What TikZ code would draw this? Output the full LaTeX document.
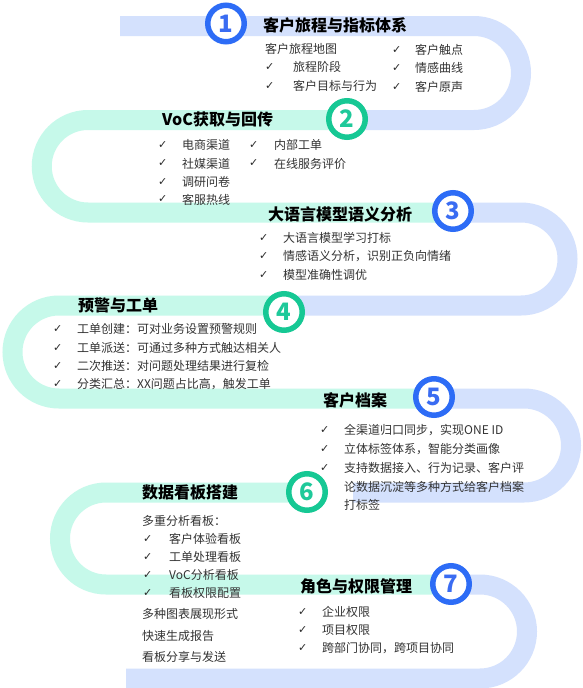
\documentclass[tikz,border=0pt]{standalone}
\usepackage{fontspec}
\setmainfont{Noto Sans CJK SC}
\newfontfamily\chkfont{DejaVu Sans}
\newfontfamily\numfont{Noto Sans CJK SC}
\definecolor{bandblue}{HTML}{D4E1FD}
\definecolor{bandgreen}{HTML}{C6F9EA}
\definecolor{ringblue}{HTML}{2D6CF6}
\definecolor{ringgreen}{HTML}{16C894}
\definecolor{numblue}{HTML}{3A6CF2}
\definecolor{numgreen}{HTML}{1EC99A}
\definecolor{bodygray}{HTML}{333333}
\definecolor{chkgray}{HTML}{2A2A2A}
\begin{document}
\begin{tikzpicture}[x=1pt,y=-1pt,
  bandB/.style={draw=bandblue,line width=20pt},
  bandG/.style={draw=bandgreen,line width=20pt},
  ringB/.style={circle,draw=ringblue,line width=5.5pt,fill=white,minimum size=36.5pt,inner sep=0pt,text=numblue,font=\numfont\bfseries\fontsize{24}{24}\selectfont},
  ringG/.style={ringB,draw=ringgreen,text=numgreen},
  ttl/.style={anchor=west,inner sep=0pt,text=black,font=\bfseries\fontsize{16}{16}\selectfont},
  body/.style={anchor=west,inner sep=0pt,text=bodygray,font=\fontsize{12}{12}\selectfont},
  chk/.style={anchor=west,inner sep=0pt,text=chkgray,font=\chkfont\fontsize{11}{11}\selectfont}]
\useasboundingbox (0,0) rectangle (583,688);
\fill[white] (0,0) rectangle (583,688);
% bands
\draw[bandB] (120,26) -- (474,26) arc[start angle=-90,end angle=90,radius=47] -- (347,120);
\draw[bandG] (347,120) -- (88,120) arc[start angle=-90,end angle=-270,radius=46.25] -- (453,212.5);
\draw[bandB] (453,212.5) -- (521,212.5) arc[start angle=-90,end angle=90,radius=46.5] -- (283,305.5);
\draw[bandG] (283,305.5) -- (59,305.5) arc[start angle=-90,end angle=-270,radius=46.5] -- (435,398.5);
\draw[bandB] (435,398.5) -- (524,398.5) arc[start angle=-90,end angle=90,radius=47] -- (353,492.5);
\draw[bandG] (307,492.5) -- (106,492.5) arc[start angle=-90,end angle=-270,radius=46] -- (450,584.5);
\draw[bandB] (450,584.5) -- (480,584.5) arc[start angle=-90,end angle=90,radius=47] -- (126,678.5);
% circles
\node[ringB] (c1) at (226,23.5) {1};
\node[ringG] (c2) at (347,119) {2};
\node[ringB] (c3) at (453,211) {3};
\node[ringG] (c4) at (284,312) {4};
\node[ringB] (c5) at (434,397) {5};
\node[ringG] (c6) at (307,492) {6};
\node[ringB] (c7) at (451,584) {7};
% row 1
\node[ttl] (t1) at (263,25) {客户旅程与指标体系};
\node[body] (b1a) at (265,49) {客户旅程地图};
\node[chk] (k1b) at (265,67) {✓}; \node[body] (b1b) at (293,67) {旅程阶段};
\node[chk] (k1c) at (265,86) {✓}; \node[body] (b1c) at (293,86) {客户目标与行为};
\node[chk] (k1d) at (392,50) {✓}; \node[body] (b1d) at (415,50) {客户触点};
\node[chk] (k1e) at (392,68) {✓}; \node[body] (b1e) at (415,68) {情感曲线};
\node[chk] (k1f) at (392,87) {✓}; \node[body] (b1f) at (415,87) {客户原声};
% row 2
\node[ttl] (t2) at (162,119) {VoC获取与回传};
\node[chk] (k2a) at (158,145) {✓}; \node[body] (b2a) at (182,145) {电商渠道};
\node[chk] (k2b) at (158,163.5) {✓}; \node[body] (b2b) at (182,163.5) {社媒渠道};
\node[chk] (k2c) at (158,182) {✓}; \node[body] (b2c) at (182,182) {调研问卷};
\node[chk] (k2d) at (158,199.5) {✓}; \node[body] (b2d) at (182,199.5) {客服热线};
\node[chk] (k2e) at (249,145) {✓}; \node[body] (b2e) at (274,145) {内部工单};
\node[chk] (k2f) at (249,163.5) {✓}; \node[body] (b2f) at (274,163.5) {在线服务评价};
% row 3
\node[ttl] (t3) at (268,214) {大语言模型语义分析};
\node[chk] (k3a) at (259,238) {✓}; \node[body] (b3a) at (283,238) {大语言模型学习打标};
\node[chk] (k3b) at (259,256.5) {✓}; \node[body] (b3b) at (283,256.5) {情感语义分析，识别正负向情绪};
\node[chk] (k3c) at (259,275) {✓}; \node[body] (b3c) at (283,275) {模型准确性调优};
% row 4
\node[ttl] (t4) at (78,305) {预警与工单};
\node[chk] (k4a) at (53,329) {✓}; \node[body] (b4a) at (77,329) {工单创建：可对业务设置预警规则};
\node[chk] (k4b) at (53,348) {✓}; \node[body] (b4b) at (77,348) {工单派送：可通过多种方式触达相关人};
\node[chk] (k4c) at (53,366) {✓}; \node[body] (b4c) at (77,366) {二次推送：对问题处理结果进行复检};
\node[chk] (k4d) at (53,384) {✓}; \node[body] (b4d) at (77,384) {分类汇总：XX问题占比高，触发工单};
% row 5
\node[ttl] (t5) at (323,400) {客户档案};
\node[chk] (k5a) at (320,430) {✓}; \node[body] (b5a) at (344,430) {全渠道归口同步，实现ONE ID};
\node[chk] (k5b) at (320,449) {✓}; \node[body] (b5b) at (344,449) {立体标签体系，智能分类画像};
\node[chk] (k5c) at (320,468) {✓}; \node[body] (b5c) at (344,468) {支持数据接入、行为记录、客户评};
\node[body] (b5d) at (344,487) {论数据沉淀等多种方式给客户档案};
\node[body] (b5e) at (344,505) {打标签};
% row 6
\node[ttl] (t6) at (142,492) {数据看板搭建};
\node[body] (b6a) at (142,521) {多重分析看板：};
\node[chk] (k6b) at (143,539) {✓}; \node[body] (b6b) at (169,539) {客户体验看板};
\node[chk] (k6c) at (143,557) {✓}; \node[body] (b6c) at (169,557) {工单处理看板};
\node[chk] (k6d) at (143,575) {✓}; \node[body] (b6d) at (169,575) {VoC分析看板};
\node[chk] (k6e) at (143,593) {✓}; \node[body] (b6e) at (169,593) {看板权限配置};
\node[body] (b6f) at (142,614) {多种图表展现形式};
\node[body] (b6g) at (142,636) {快速生成报告};
\node[body] (b6h) at (142,657) {看板分享与发送};
% row 7
\node[ttl] (t7) at (300,586) {角色与权限管理};
\node[chk] (k7a) at (298,612) {✓}; \node[body] (b7a) at (322,612) {企业权限};
\node[chk] (k7b) at (298,630) {✓}; \node[body] (b7b) at (322,630) {项目权限};
\node[chk] (k7c) at (298,648) {✓}; \node[body] (b7c) at (322,648) {跨部门协同，跨项目协同};
\end{tikzpicture}
\end{document}
